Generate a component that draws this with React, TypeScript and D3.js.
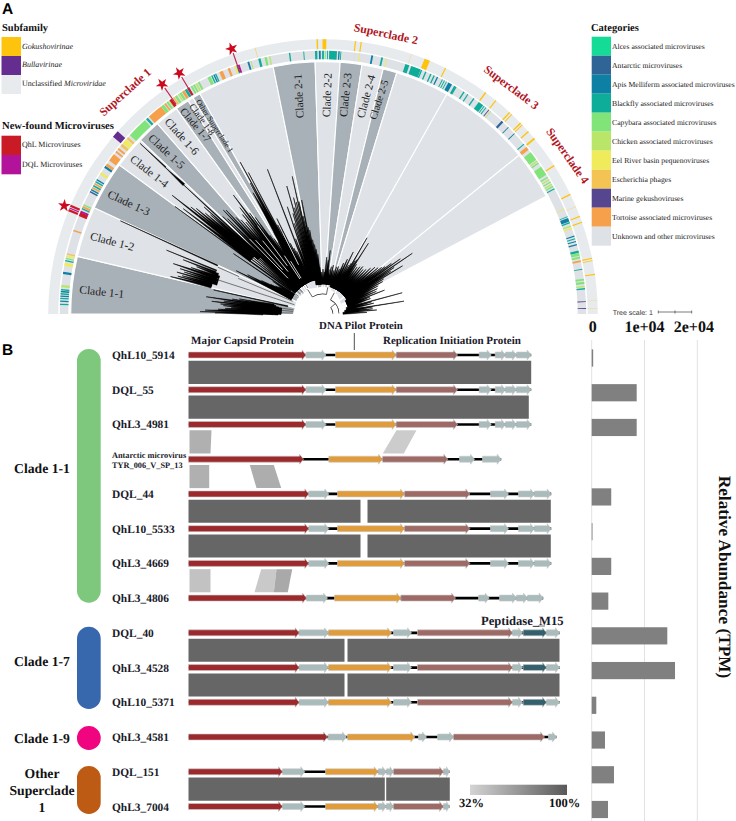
import React from "react";
import * as d3 from "d3";

// ---------- Panel A data ----------
const categoryNames = ["Alces associated microviruses","Antarctic microviruses","Apis Melliferm associated microviruses","Blackfly associated microviruses","Capybara associated microviruses","Chicken associated microviruses","Eel River basin pequenoviruses","Escherichia phages","Marine gekushoviruses","Tortoise associated microviruses","Unknown and other microviruses"];
const categoryColors = ["#14dc96","#2e6496","#0d80a4","#0dad9a","#80e478","#b9e669","#f0eb5a","#f3c354","#56458f","#f6a04c","#dee1e5"];
const QHL = "#ca1a25", DQL = "#b3129a", GOKU = "#fec30d", BULLA = "#662d91";

const sectorEdges = [0,13.2,24.9,36.2,43.6,49,54.5,57.7,59,60.8,78.6,88.2,93.9,98.9,103.8,107,119.4,141,152.2];
const sectorDark = [1,0,1,0,1,0,1,0,1,0,1,0,1,0,1,0,0,0];

// [angle from the left, width in degrees, colour]
const innerStrips: [number,number,string][] = [
 [2.1,.3,"#0dad9a"],[2.8,.3,"#0d80a4"],[3.4,.3,"#0dad9a"],[3.9,.3,"#0d80a4"],[4.4,.3,"#0dad9a"],[4.9,.3,"#0d80a4"],[5.3,.3,"#0dad9a"],[6.1,.5,"#b9e669"],
 [9,.5,"#0d80a4"],[10.9,.7,"#f0eb5a"],[11.7,.25,"#0dad9a"],[12.2,.25,"#80e478"],[12.7,.3,"#f0eb5a"],[13.2,.3,"#f3c354"],[18.5,.3,"#f6a04c"],
 [22.3,.9,QHL],[22.9,.4,DQL],[23.6,.3,"#0dad9a"],[24,.4,"#f6a04c"],[24.5,.3,"#80e478"],
 [27.7,.35,"#2e6496"],[28.2,.3,"#0d80a4"],[28.7,.35,"#f6a04c"],[29.2,.35,"#0dad9a"],[29.7,.35,"#f6a04c"],[30.2,.3,"#0dad9a"],[30.7,.3,"#0d80a4"],[32.3,.6,"#f0eb5a"],
 [34,.5,"#0d80a4"],[34.6,.6,"#f6a04c"],[36.5,1.7,"#f6a04c"],[38.1,.4,"#f6a04c"],[38.9,.4,"#f6a04c"],[40,.6,"#f3c354"],[41,1,"#f0eb5a"],[42,.5,"#f3c354"],
 [45.1,4.6,"#80e478"],[48,.5,"#0dad9a"],[50.3,3.4,"#f6a04c"],[52.4,.7,"#80e478"],[53.1,.4,"#f6a04c"],[53.7,.4,"#80e478"],[54.2,.3,"#b9e669"],[54.6,.6,QHL],
 [55.4,.4,"#f3c354"],[56,.5,"#80e478"],[56.7,.3,"#b9e669"],[57.2,.5,"#80e478"],[57.9,.6,"#f6a04c"],[58.6,.6,"#0dad9a"],[59.2,.5,QHL],[60,.4,"#80e478"],[60.6,.4,"#80e478"],[61.2,.4,"#b9e669"],[61.8,.4,"#80e478"],
 [64.3,.7,"#80e478"],[65,.3,"#0dad9a"],[65.5,.3,"#0d80a4"],[65.9,.3,"#0dad9a"],[67.2,.8,"#f6a04c"],[69,.5,"#f6a04c"],[70.5,.4,"#f0eb5a"],[70.9,.3,"#0dad9a"],[71.3,.4,DQL],
 [73.5,.4,"#0d80a4"],[74.1,.2,"#b9e669"],[76,.5,"#0dad9a"],[77.4,.5,"#80e478"],[78.3,.3,"#b9e669"],[82.7,.3,"#0dad9a"],[85.8,.2,"#0dad9a"],
 [88.5,.5,"#0dad9a"],[89.3,.4,"#0d80a4"],[90,.4,"#0dad9a"],[90.5,.2,"#80e478"],[91,.2,"#0dad9a"],[92.2,1.7,"#0dad9a"],[93.5,.3,"#0d80a4"],[93.9,.2,"#0dad9a"],
 [97,.2,"#dcdcdc"],[98,.2,"#f0eb5a"],[100.8,.4,"#0d80a4"],[103,.4,"#0dad9a"],[104,.2,"#f0eb5a"],
 [108.7,.9,"#0dad9a"],[110.7,2.2,"#0dad9a"],[112,.3,"#0dad9a"],[113,.3,"#0dad9a"],[114.2,.3,"#0dad9a"],[115,.3,"#0dad9a"],[115.8,.3,"#0d80a4"],
 [117,.2,"#0dad9a"],[117.5,.2,"#0dad9a"],[118,.2,"#0dad9a"],[118.9,.9,"#0d80a4"],[120.2,.6,"#0dad9a"],[122.4,.3,"#0dad9a"],[123.4,.25,"#0dad9a"],[125,.3,"#0dad9a"],
 [126.9,1.2,"#0dad9a"],[127.8,.2,"#0dad9a"],[128.3,.2,"#0dad9a"],[129.1,.2,"#56458f"],[129.6,.2,"#b9e669"],[133,.5,"#2e6496"],[134.8,.2,"#0d80a4"],[136.7,.2,"#0d80a4"],
 [139.8,.25,"#0dad9a"],[141,.8,"#f6a04c"],[143.1,2,"#80e478"],[144.5,.3,"#b9e669"],[145,.3,"#80e478"],[147,2.1,"#80e478"],[148.7,.3,"#80e478"],[149.3,.3,"#b9e669"],[149.9,.3,"#80e478"],[150.5,.3,"#b9e669"],[151,.3,"#80e478"],[151.6,.25,"#0dad9a"],
 [156.5,.2,"#f0eb5a"],[158.3,.2,"#0dad9a"],[159,.8,"#0d80a4"],[159.7,.3,"#0dad9a"],[160.5,.3,"#b9e669"],[161,.3,"#f0eb5a"],
 [162.8,.25,"#0d80a4"],[163.4,.25,"#0dad9a"],[164,.25,"#0d80a4"],[164.7,.3,"#0d80a4"],[166.3,.5,"#0dad9a"],[166.9,.6,"#80e478"],[167.6,.4,"#80e478"],[168.4,.4,"#f6a04c"],[170.2,.2,"#0dad9a"],
 [172.5,.4,"#80e478"],[173.2,.5,"#80e478"],[174,.3,"#b9e669"],[174.5,.3,"#0dad9a"],[177.3,.2,"#56458f"],[178.8,.2,"#56458f"]
];
const outerStrips: [number,number,string][] = [
 [22.2,.5,QHL],[22.7,.25,DQL],[23.2,.5,QHL],[40.9,1.5,BULLA],[75.7,.15,GOKU+"99"],[88.8,.3,GOKU],[90.3,.8,GOKU],[96.8,.25,GOKU],[98,.25,GOKU],[108.8,.12,GOKU+"66"],
 [112.3,1.2,GOKU],[116.5,.25,GOKU],[126.3,.3,GOKU],[129,.25,GOKU],[132.8,.3,GOKU],[133.4,.2,GOKU],[136,.3,GOKU],[136.5,.2,GOKU],[138.4,.3,GOKU],[140.3,.4,GOKU],[147.3,.3,GOKU],[154.2,.3,GOKU],
 [157,.12,GOKU+"66"],[159.2,.25,GOKU],[160.5,.25,GOKU],[168.3,.25,GOKU],[168.8,.15,GOKU],[171.7,.25,GOKU],[177.2,.12,GOKU+"66"],[178.8,.15,GOKU+"66"]
];

const starAngles = [22.7,55,59.2,71];

// Tree tips: [angle, inner radius, tip radius, base width]
const treeClade11 = [[0.6,60,108,3],[1.1,50,123,3],[1.9,45,118,5],[2.6,45,105,5],[3.3,42,98,6],[4,42,92,6],[4.8,42,100,5],[5.6,45,103,5],[6.5,45,112,4],[7.4,48,100,4],[8.4,48,118,3],[9.3,50,92,3],[10.2,50,85,2],[12.4,36,112,1]];
const treeClade12 = [[13.8,115,157,3],[14.6,115,150,3],[15.2,115,146,3],[16,110,152,3],[16.8,112,145,3],[17.6,110,150,3],[18.6,112,158,3],[19.4,110,140,3],[20.5,112,135,3],[21.2,115,150,2],[22.2,115,169,1],[24.7,116,223,1]];
const treeClade13 = [[26.5,35,97,3],[27.5,35,85,4],[28.5,35,70,5],[29.5,35,60,5],[30.5,35,55,5],[31.5,35,52,4],[33,35,60,3],[34,35,108,1]];
const treeClade14 = [[36,40,183,1.5],[37,90,175,4],[38.2,100,192,4],[39,95,170,5],[39.8,90,165,6],[40.6,90,155,6],[41.4,85,150,5],[42,85,160,4],[42.8,35,195,3],[42.9,190,215,2.5],[43,215,250,1],[37.5,35,110,1.5],[38.8,35,100,1.5],[40,35,105,1.5],[41,35,100,2],[42,35,100,2]];
const treeClade15to18 = [[44.2,35,140,4],[45,35,135,5],[46.2,35,144,5],[47,35,142,5],[48,35,130,6],[49,35,125,6],[50,35,120,6],[51,35,128,6],[52,35,135,6],[53,35,149,5],[54,35,125,6],[55,35,118,6],[56,35,95,5],[57,35,90,5],[58,35,85,5],[59,35,95,5]];
const treeOther = [[60,35,140,9],[60.9,35,150,7],[61.4,35,173,3],[62.2,35,160,2],[63,35,100,4],[64.2,35,106,2],[65.2,35,78,4],[66.2,35,72,4],[67.2,35,68,4],[69,35,155,1],[70,35,80,4],[71.6,35,113,1.5],[72.5,35,95,3],[73.4,35,105,2],[74.2,35,133,1.5],[75,35,110,3],[75.8,35,120,2],[76.6,35,115,3],[77.4,35,141,1.5],[77.9,35,115,3],[78.5,35,100,4],[79.4,35,116,3]];
const treeClade2 = [[80.2,30,88,4],[81,30,85,4],[82,30,75,4],[83,30,70,4],[84,30,65,4],[85,30,60,3],[86,30,47,3],[88,30,42,3],[90,30,45,3],[92,30,42,3],[93.7,30,57,3],[95.6,30,54,3],[96.5,30,64,1.5],[98,30,45,3],[100,30,48,3],[102,30,50,3],[104,30,45,3],[106,30,49,3]];
const treeRest = [[108,28,50,4],[110,28,48,4],[112,28,55,4],[114,28,60,4],[116,28,69,2],[117.5,28,55,4],[119,28,58,4],[120,28,88,1.5],[121,28,62,3],[122,28,64,3],[122.7,28,84,1.5],[124,28,60,4],[126,28,58,4],[128,28,60,4],[130,28,62,4],[132,28,60,4],[134,28,62,4],[136,28,66,4],[138,28,70,4],[140,28,72,4],[141.5,28,75,4],[142.6,28,78,3],[143.5,28,85,3],[144.5,28,95,3],[145.8,28,108,2],[146.8,28,85,4],[147.8,28,80,4],[148.8,28,93,2],[150,28,70,4],[151.5,28,68,3],[153,26,62,4],[155,26,60,4],[157,26,58,3],[158.8,26,66,1.5],[160,26,50,4],[162,26,50,4],[165,26,82,.8],[166,26,50,3],[168,24,52,3],[171,24,82,.8],[172,24,50,3],[174,22,50,3],[175.7,22,54,2],[178,20,44,2]];
// Grey trunk branches: [angle, r0, r1]
const treeTrunks = [[1.5,30,60],[5,30,48],[8,30,50],[18,30,112],[22.8,33,92],[24,92,115],[36,30,90],[41,30,90],[43,30,100],[47,30,60],[60,30,60]];
// Pale gaps between the crowded branches: [angle, r0, r1]
const treeGaps = [[45.6,50,105],[47.6,60,100],[50.5,55,95],[53.5,60,110],[56.5,42,70],[58.5,42,62],[63.6,55,90]];
// White hub outline: [angle, radius]
const hubOutline = [[0,30],[30,30],[60,29],[85,27],[95,27],[110,25],[125,24],[140,22],[160,20],[180,19]];
// Root arcs: [start, end, radius]
const rootArcs = [[58,100,20],[118,178,16],[140,178,10]];
// Root connectors: [angle, r0, r1]
const rootLinks = [[58,20,29],[100,20,27],[118,16,24],[140,10,16]];

const sectorLabels: [string,number,number,number,number][] = [
 ["Clade 1-1",101.7,293,6,11.5],["Clade 1-2",112,242.7,15,11.5],["Clade 1-3",128.3,204,25,11.5],["Clade 1-4",148.7,172.3,38,11.5],["Clade 1-5",165.7,152.3,43,11.5],["Clade 1-6",181,137.3,48,11.5],["Clade 1-7",194.7,125.7,50,10.6],["Clade 1-8",201.3,120,54,9.4],["Other Superclade 1",214,126.3,57,8],
 ["Clade 2-1",300,96,-93,11.3],["Clade 2-2",328.3,95,-88,11.3],["Clade 2-3",346.7,95,-84,11.3],["Clade 2-4",367.3,96.7,-75,11.3],["Clade 2-5",380,100,-72,10.5]
];
const superLabels: [string,number,number,number][] = [
 ["Superclade 1",126,93,-42],["Superclade 2",385.7,35,12],["Superclade 3",510.7,88.3,37],["Superclade 4",566.7,156.5,55]
];

// ---------- Panel B data (genome positions) ----------
type Gene = [number,number,string];
const genesA: Gene[] = [[0,117.5,"M"],[117.5,137.5,"G"],[147,207.7,"O"],[207.7,269,"B"],[290.7,302.7,"G"],[306.7,317,"G"],[317,328,"G"],[328,342.7,"G"]];
const genesTyr: Gene[] = [[0,115,"M"],[140.3,194,"O"],[194,259.3,"B"],[271,286,"G"],[294,312.7,"G"]];
const genesC: Gene[] = [[0,120.3,"M"],[120.3,140.3,"G"],[149,216,"O"],[216,281.3,"B"],[302,320,"G"],[330,346,"G"],[346,362.7,"G"]];
const genes4806: Gene[] = [[0,118,"M"],[118,139,"G"],[146,212.3,"O"],[212.3,267,"B"],[290,300.7,"G"],[311,328,"G"],[328,339,"G"],[339,354.7,"G"]];
const genesD: Gene[] = [[0,110.7,"M"],[110.7,140,"G"],[140,203,"O"],[205,223,"G"],[229,324,"B"],[324,334,"G"],[334.7,358,"T"],[358,371,"G"]];
const genes4581: Gene[] = [[0,139,"M"],[139.7,158,"G"],[159,226.3,"O"],[230,238,"G"],[249,265,"G"],[265,356,"B"],[360,368,"G"]];
const genesF: Gene[] = [[0,94,"M"],[94,116.3,"G"],[137,189.7,"O"],[189.7,198,"G"],[198,205,"G"],[205,255,"B"],[255,261,"G"]];
const geneColors: Record<string,string> = {M:"#9c2a2c",G:"#a9bbbb",O:"#e09c3a",B:"#9e6a66",T:"#34606e"};

const rowNames = ["QhL10_5914","DQL_55","QhL3_4981","","DQL_44","QhL10_5533","QhL3_4669","QhL3_4806","DQL_40","QhL3_4528","QhL10_5371","QhL3_4581","DQL_151","QhL3_7004"];
const rowGenes = [genesA,genesA,genesA,genesTyr,genesC,genesC,genesC,genes4806,genesD,genesD,genesD,genes4581,genesF,genesF];
const abundance = [280,8520,8520,0,3700,150,3700,3150,14320,15780,870,2520,4220,3090];

// [row, x top left, x top right, x bottom right, x bottom left, identity]
const comparisons: [number,number,number,number,number,number][] = [
 [0,0,342.7,342.7,0,100],[1,0,340.3,340.3,0,100],
 [2,1,23,22,1,58],[2,208,228,215.3,194.3,42],
 [3,1,20.7,20.7,1,58],[3,61.3,85.3,92.7,68,60],
 [4,0,172,172,0,100],[4,179,362.3,362.3,179,100],[5,0,172,172,0,100],[5,179,362.3,362.3,179,100],
 [6,1,22,22,1,48],[6,72.7,88,85.3,66,44],[6,88,103.7,99.3,85.3,62],
 [8,0,156,156,0,100],[8,159,371,371,159,100],[9,0,156,156,0,100],[9,159,371,371,159,100],
 [12,0,196.3,196.3,0,100],[12,197.7,261.3,261.3,197.7,100]
];

const clades = [
 {name:["Clade 1-1"],from:349,to:602.7,color:"#7dc87d",ty:[473]},
 {name:["Clade 1-7"],from:626.7,to:709,color:"#3768ae",ty:[666]},
 {name:["Clade 1-9"],from:726,to:750,color:"#f0047f",ty:[743]},
 {name:["Other","Superclade","1"],from:766,to:814,color:"#bd5b15",ty:[778,795,812]}
];
const clades_labelX = 42;

const subfamilyLegend: [string,string][] = [[GOKU,"Gokushovirinae"],[BULLA,"Bullavirinae"],["#e8ebee",""]];
const newFoundLegend: [string,string][] = [[QHL,"QhL Microviruses"],[DQL,"DQL Microviruses"]];
const tickValues = [0,10000,20000];
const tickLabels = ["0","1e+04","2e+04"];

// ---------- Geometry ----------
const CX = 323, CY = 314;
const SERIF = "'Liberation Serif','Times New Roman',serif";
const SANS = "'Liberation Sans',Arial,sans-serif";
const rad = (t:number)=>(t-90)*Math.PI/180;
const polar = (t:number,r:number)=>d3.pointRadial(rad(t),r) as [number,number];
const arcGen = d3.arc();
const arcPath = (t0:number,t1:number,r0:number,r1:number)=>arcGen({startAngle:rad(t0),endAngle:rad(t1),innerRadius:r0,outerRadius:r1} as any) as string;
const line = d3.line();

const spike = (s:number[])=>{
 const [t,r0,r1,w] = s; const d=(w/2)/r0*180/Math.PI;
 return line([polar(t-d,r0),polar(t+d,r0),polar(t,r1)])+"Z";
};
const radial = (t:number,r0:number,r1:number)=>line([polar(t,r0),polar(t,r1)]) as string;

const allTips = [...treeClade11,...treeClade12,...treeClade13,...treeClade14,...treeClade15to18,...treeOther,...treeClade2,...treeRest];

const rowY = d3.range(14).map(d3.scaleLinear([0,13],[355,806.5]));
const gx = d3.scaleLinear([0,371],[188.5,559.5]);
const tpm = d3.scaleLinear([0,20000],[591.7,697.3]);
const idColor = d3.scaleLinear<string>([32,100],["#dedede","#666666"]);

function GeneArrow({g,y}:{g:Gene;y:number}){
 const x0=gx(g[0]), x1=gx(g[1]);
 const head=Math.min(4,(x1-x0)*.5);
 const pts:[number,number][]=[[x0,y-3],[x1-head,y-3],[x1-head,y-5],[x1,y],[x1-head,y+5],[x1-head,y+3],[x0,y+3]];
 return <path d={line(pts)+"Z"} fill={geneColors[g[2]]} stroke="#c9c9c9" strokeWidth={0.6} strokeLinejoin="round"/>;
}

export default function App(){
 const hub = d3.lineRadial().curve(d3.curveLinear)(hubOutline.map(([t,r])=>[rad(t),r] as [number,number]));
 return (
 <svg width={736} height={821} viewBox="0 0 736 821" textRendering="geometricPrecision" style={{position:"absolute",left:0,top:0,display:"block",background:"#fff"}} fontFamily={SERIF}>
  <defs>
   <linearGradient id="idg"><stop offset="0" stopColor="#d4d4d4"/><stop offset="1" stopColor="#595959"/></linearGradient>
  </defs>
  <text x={2} y={13.5} fontFamily={SANS} fontWeight="bold" fontSize={15.5}>A</text>
  <text x={2} y={355} fontFamily={SANS} fontWeight="bold" fontSize={15.5}>B</text>

  {/* left legends */}
  <text x={2} y={30.5} fontWeight="bold" fontSize={10.5} fill="#111">Subfamily</text>
  {subfamilyLegend.map((l,i)=><rect key={i} x={1.5} y={37+i*19} width={19.5} height={19} fill={l[0]}/>)}
  <text x={22} y={48.5} fontStyle="italic" fontSize={8} fill="#222">Gokushovirinae</text>
  <text x={22} y={67} fontStyle="italic" fontSize={8} fill="#222">Bullavirinae</text>
  <text x={22} y={86} fontSize={8} fill="#222">Unclassified <tspan fontStyle="italic">Microviridae</tspan></text>
  <text x={2} y={129} fontWeight="bold" fontSize={10.6} fill="#111">New-found Microviruses</text>
  {newFoundLegend.map((l,i)=><g key={i}><rect x={1.5} y={135.7+i*19.3} width={19.5} height={19.3} fill={l[0]}/>
   <text x={22} y={147+i*20} fontSize={8} fill="#222">{l[1]}</text></g>)}

  {/* right legend */}
  <text x={591} y={31} fontWeight="bold" fontSize={10.5} fill="#111">Categories</text>
  {categoryNames.map((n,i)=><g key={n}>
   <rect x={591.7} y={36.7+i*19} width={19.3} height={19} fill={categoryColors[i]}/>
   <text x={612} y={49+i*19} fontSize={7.7} fill="#222">{n}</text></g>)}
  <text x={612.7} y={314.5} fontFamily={SANS} fontSize={7} fill="#333">Tree scale: 1</text>
  <g stroke="#444" strokeWidth={0.7}>
   <line x1={658.3} x2={691.7} y1={312} y2={312}/>
   <line x1={658.3} x2={658.3} y1={310.5} y2={313.5}/><line x1={675} x2={675} y1={310.5} y2={313.5}/><line x1={691.7} x2={691.7} y1={310.5} y2={313.5}/>
  </g>

  {/* fan */}
  <g transform={`translate(${CX},${CY})`}>
   <path d={arcPath(0,180,264.7,274.8)} fill="#e8ebee"/>
   <path d={arcPath(0,180,254.7,263.2)} fill="#dee1e5"/>
   {outerStrips.map((s,i)=><path key={i} d={arcPath(s[0]-s[1]/2,s[0]+s[1]/2,264.7,274.8)} fill={s[2]}/>)}
   {innerStrips.map((s,i)=><path key={i} d={arcPath(s[0]-s[1]/2,s[0]+s[1]/2,254.7,263.2)} fill={s[2]}/>)}
   {sectorDark.map((d,i)=><path key={i} d={arcPath(sectorEdges[i],sectorEdges[i+1],0,252.3)} fill={d?"#a9b1b8":"#dfe2e6"} stroke="#fff" strokeWidth={1.1}/>)}
   {treeTrunks.map((t,i)=><path key={i} d={radial(t[0],t[1],t[2])} stroke="#444" strokeWidth={0.7} fill="none"/>)}
   {allTips.map((s,i)=><path key={i} d={spike(s)} fill="#000" stroke="#000" strokeWidth={0.5}/>)}
   {treeGaps.map((t,i)=><path key={i} d={radial(t[0],t[1],t[2])} stroke="#dfe2e6" strokeWidth={0.9} fill="none"/>)}
   <path d={hub+"L0,0Z"} fill="#fff"/>
   {rootArcs.map((a,i)=><path key={i} d={arcPath(a[0],a[1],a[2]-.35,a[2]+.35)} fill="#222"/>)}
   {rootLinks.map((t,i)=><path key={i} d={radial(t[0],t[1],t[2])} stroke="#222" strokeWidth={0.7} fill="none"/>)}
   {starAngles.map((t,i)=>{const p0=polar(t,i===0?270:256),p1=polar(t,276),s=polar(t,280.5);
    return <g key={t}>{i>0&&<line x1={p0[0]} y1={p0[1]} x2={p1[0]} y2={p1[1]} stroke="#c41e4f" strokeWidth={1.1}/>}
    <path transform={`translate(${s[0]},${s[1]}) rotate(${t-90})`} d={d3.symbol(d3.symbolStar,50)() as string} fill="#cc0a1e"/></g>;})}
  </g>
  {sectorLabels.map(l=><text key={l[0]} transform={`translate(${l[1]},${l[2]}) rotate(${l[3]})`} fontSize={l[4]} textAnchor="middle" dominantBaseline="middle" fill="#1c1c1c">{l[0]}</text>)}
  {superLabels.map(l=><text key={l[0]} transform={`translate(${l[1]},${l[2]}) rotate(${l[3]})`} fontSize={11.8} fontWeight="bold" textAnchor="middle" dominantBaseline="middle" fill="#b1161f">{l[0]}</text>)}

  {/* bars axis */}
  {tickValues.map((v,i)=><g key={v}>
   <line x1={tpm(v)} x2={tpm(v)} y1={340} y2={821} stroke="#e2e2e2" strokeWidth={1}/>
   <text x={tpm(v)+(i===2?-3.5:0)+(i===0?1:0)} y={331.5} fontSize={16} fontWeight="bold" textAnchor="middle" fill="#111">{tickLabels[i]}</text>
  </g>)}
  {abundance.map((v,i)=>v>0&&<rect key={i} x={tpm(0)} y={rowY[i]+3-8.6} width={tpm(v)-tpm(0)} height={17.2} fill="#808080"/>)}
  <text transform="translate(719,577) rotate(90)" fontSize={17.3} fontWeight="bold" textAnchor="middle" fill="#111">Relative Abundance (TPM)</text>

  {/* headers */}
  <text x={191} y={344} fontSize={11} fontWeight="bold" fill="#1a1a2a">Major Capsid Protein</text>
  <text x={361} y={329} fontSize={10.8} fontWeight="bold" textAnchor="middle" fill="#1a1a2a">DNA Pilot Protein</text>
  <line x1={354.3} x2={354.3} y1={333} y2={350} stroke="#222" strokeWidth={0.8}/>
  <text x={383} y={344} fontSize={11} fontWeight="bold" fill="#1a1a2a">Replication Initiation Protein</text>
  <text x={481} y={624.5} fontSize={12.6} fontWeight="bold" fill="#1a1a2a">Peptidase_M15</text>
  <line x1={538} x2={545} y1={626} y2={626} stroke="#333" strokeWidth={0.7}/>

  {/* clades */}
  {clades.map(c=><g key={c.name[0]}>
   <rect x={77} y={c.from} width={23.7} height={c.to-c.from} rx={11.85} fill={c.color}/>
   {c.name.map((n,j)=><text key={n} x={clades_labelX} y={c.ty[j]} fontSize={13.7} fontWeight="bold" textAnchor="middle" fill="#111">{n}</text>)}
  </g>)}

  {/* comparison blocks */}
  {comparisons.map((c,i)=>{const y0=rowY[c[0]]+5.8,y1=rowY[c[0]+1]-5.8;
   return <path key={i} d={line([[gx(c[1]),y0],[gx(c[2]),y0],[gx(c[3]),y1],[gx(c[4]),y1]])+"Z"} fill={idColor(c[5])}/>;})}

  {/* genomes */}
  {rowGenes.map((gs,i)=><g key={i}>
   <line x1={gx(0)} x2={gx(gs[gs.length-1][1])} y1={rowY[i]} y2={rowY[i]} stroke="#000" strokeWidth={2.6}/>
   {gs.map((g,j)=><GeneArrow key={j} g={g} y={rowY[i]}/>)}
   {rowNames[i]&&<text x={112} y={rowY[i]+4} fontSize={11.4} fontWeight="bold" fill="#1a1a2a">{rowNames[i]}</text>}
  </g>)}
  <text x={112} y={457.5} fontSize={8.3} fontWeight="bold" fill="#1a1a2a">Antarctic microvirus</text>
  <text x={112} y={468} fontSize={8.3} fontWeight="bold" fill="#1a1a2a">TYR_006_V_SP_13</text>

  {/* identity legend */}
  <rect x={470} y={784.7} width={97} height={10.3} fill="url(#idg)"/>
  <text x={471.5} y={806.5} fontSize={12.5} fontWeight="bold" textAnchor="middle" fill="#111">32%</text>
  <text x={564.5} y={806.5} fontSize={12.5} fontWeight="bold" textAnchor="middle" fill="#111">100%</text>
 </svg>);
}
